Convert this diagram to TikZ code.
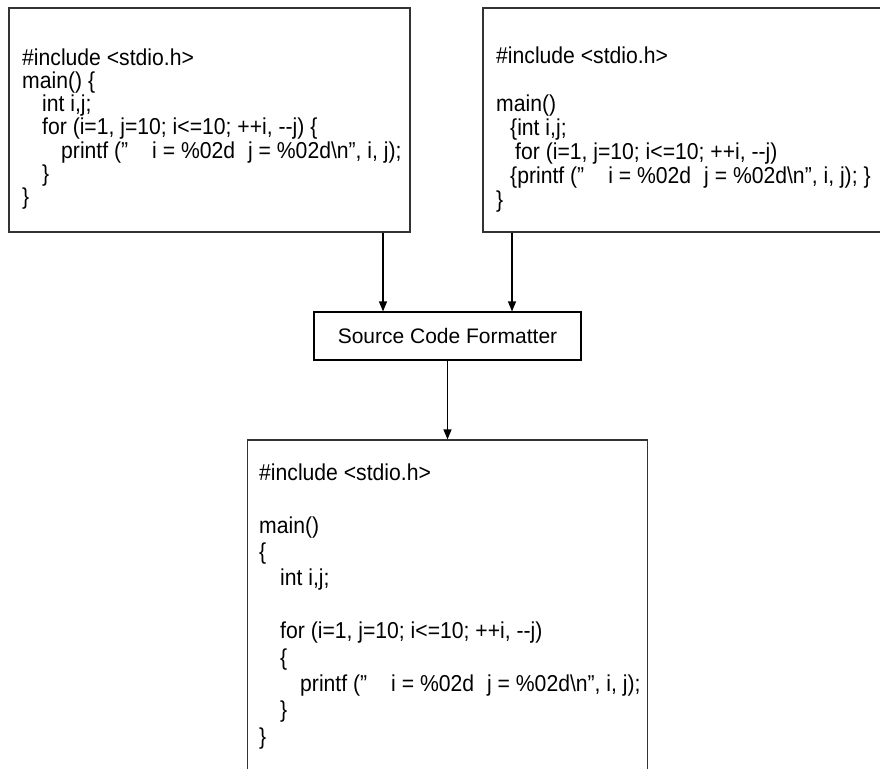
\documentclass[tikz,border=0pt]{standalone}
\usepackage{fontspec}
\newfontfamily\codefont{Liberation Sans}[FakeStretch=0.92]
\newfontfamily\fmtfont{Liberation Sans}
\usetikzlibrary{arrows.meta}
\newcommand{\pfline}{printf (”\hspace*{24pt}i = \%02d\hspace*{13pt}j = \%02d\textbackslash n”, i, j);}
\begin{document}
\begin{tikzpicture}[x=1pt,y=-1pt,
  box/.style={draw=black!80, line width=1.2pt, rectangle, inner sep=0pt},
  codetop/.style={align=left, inner sep=0pt, anchor=north west, font={\codefont\fontsize{23}{23.2}\selectfont}},
  codetopr/.style={align=left, inner sep=0pt, anchor=north west, font={\codefont\fontsize{23}{24}\selectfont}},
  codebot/.style={align=left, inner sep=0pt, anchor=north west, font={\codefont\fontsize{23}{26.4}\selectfont}},
  arr/.style={-{Triangle[length=10pt,width=8pt]}, line width=1.2pt, draw=black}]
\useasboundingbox (0,0) rectangle (880,768);
\fill[white] (0,0) rectangle (880,768);
\clip (0,0) rectangle (880,768);
% boxes
\node[box, minimum width=401pt, minimum height=224pt] (tl) at (209.5,120) {};
\node[box, minimum width=410pt, minimum height=224pt] (tr) at (688,120) {};
\node[box, draw=black, minimum width=267pt, minimum height=48pt, font={\fmtfont\fontsize{21}{21}\selectfont}] (fmt) at (447.5,336) {Source Code Formatter};
\node[box, minimum width=400pt, minimum height=360pt] (bot) at (447.5,620) {};
% texts
\node[codetop] (tltext) at (22,48.5) {\#include <stdio.h>\\
main() \{\\
\hspace*{20pt}int i,j;\\
\hspace*{20pt}for (i=1, j=10; i<=10; ++i, -{}-j) \{\\
\hspace*{39pt}\pfline\\
\hspace*{20pt}\}\\
\}};
\node[codetopr] (trtext) at (496,46.5) {\#include <stdio.h>\\
\mbox{}\\
main()\\
\hspace*{14pt}\{int i,j;\\
\hspace*{19pt}for (i=1, j=10; i<=10; ++i, -{}-j)\\
\hspace*{14pt}\{\pfline\ \}\\
\}};
\node[codebot] (bottext) at (259,463.5) {\#include <stdio.h>\\
\mbox{}\\
main()\\
\{\\
\hspace*{21pt}int i,j;\\
\mbox{}\\
\hspace*{21pt}for (i=1, j=10; i<=10; ++i, -{}-j)\\
\hspace*{21pt}\{\\
\hspace*{41pt}\pfline\\
\hspace*{21pt}\}\\
\}};
% connectors
\coordinate (fa) at ([xshift=-64.5pt]fmt.north);
\coordinate (fb) at ([xshift=64.5pt]fmt.north);
\draw[arr] (tl.south -| fa) -- (fa);
\draw[arr] (tr.south -| fb) -- (fb);
\draw[arr] (fmt.south) -- (bot.north);
\end{tikzpicture}
\end{document}
